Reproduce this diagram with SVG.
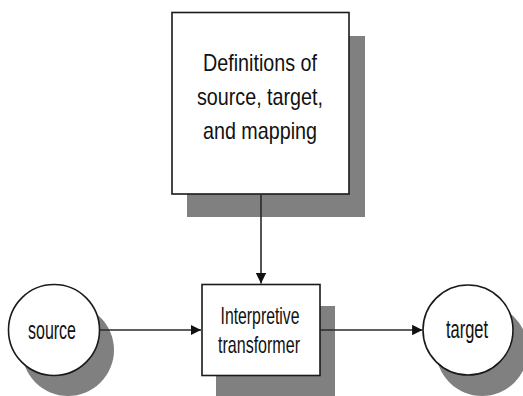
<svg xmlns="http://www.w3.org/2000/svg" width="523" height="396" viewBox="0 0 523 396">
<style>
.shadow{fill:#808080;stroke:none}
.shape{fill:#fff;stroke:#1a1a1a;stroke-width:1.6}
.conn{stroke:#2a2a2a;stroke-width:1.6;fill:none}
text{font-family:"Liberation Sans",Arial,sans-serif;fill:#111;text-anchor:middle}
.big{font-size:24px}
.mid{font-size:24px}
.circ{font-size:25px}
</style>
<defs>
<marker id="arrow" viewBox="0 0 10 10" refX="10" refY="5" markerWidth="6.5" markerHeight="7" markerUnits="strokeWidth" orient="auto">
<path d="M0,0 L10,5 L0,10 z" fill="#111"/>
</marker>
</defs>
<rect width="523" height="396" fill="#fff"/>
<g id="definitions">
<rect class="shadow" x="187" y="36" width="178" height="181"/>
<rect class="shape" x="172" y="12.5" width="177" height="181.5"/>
<text class="big" x="260" y="70.5" textLength="114" lengthAdjust="spacingAndGlyphs">Definitions of</text>
<text class="big" x="260" y="104.5" textLength="126" lengthAdjust="spacingAndGlyphs">source, target,</text>
<text class="big" x="260" y="138.5" textLength="114" lengthAdjust="spacingAndGlyphs">and mapping</text>
</g>
<g id="source">
<circle class="shadow" cx="68" cy="350" r="46"/>
<circle class="shape" cx="54" cy="330" r="45.5"/>
<text class="circ" x="52" y="338.5" textLength="48" lengthAdjust="spacingAndGlyphs">source</text>
</g>
<g id="transformer">
<rect class="shadow" x="216" y="306" width="119" height="95"/>
<rect class="shape" x="202" y="284.5" width="118" height="91"/>
<text class="mid" x="260" y="323.5" textLength="79" lengthAdjust="spacingAndGlyphs">Interpretive</text>
<text class="mid" x="259" y="353" textLength="82" lengthAdjust="spacingAndGlyphs">transformer</text>
</g>
<g id="target">
<circle class="shadow" cx="482" cy="350" r="46"/>
<circle class="shape" cx="468" cy="330" r="45"/>
<text class="circ" x="467" y="337.5" textLength="42" lengthAdjust="spacingAndGlyphs">target</text>
</g>
<g id="connectors">
<line class="conn" x1="261" y1="194" x2="261" y2="283.5" marker-end="url(#arrow)"/>
<line class="conn" x1="99.5" y1="330" x2="201" y2="330" marker-end="url(#arrow)"/>
<line class="conn" x1="320" y1="330" x2="422.5" y2="330" marker-end="url(#arrow)"/>
</g>
</svg>
